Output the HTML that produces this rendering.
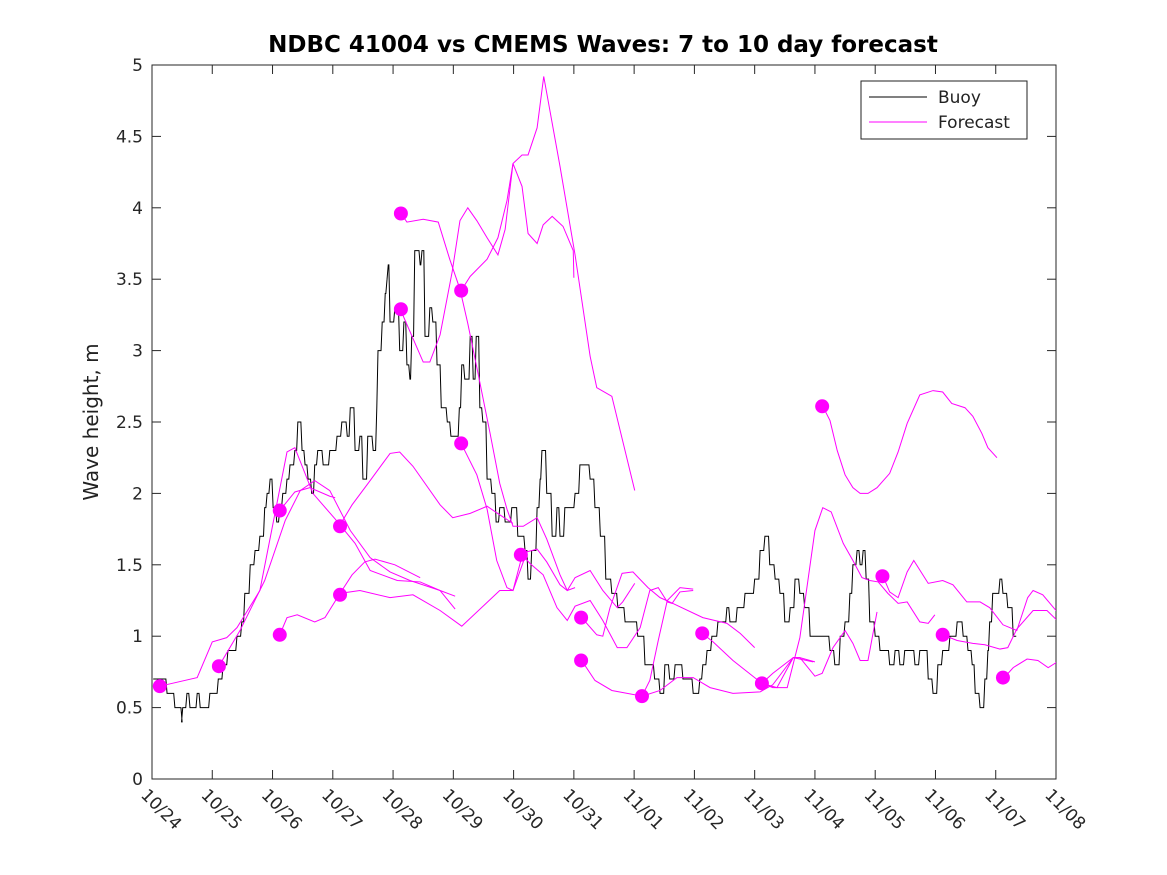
<!DOCTYPE html>
<html><head><meta charset="utf-8"><style>
body{margin:0;background:#fff}
svg{display:block;font-family:"DejaVu Sans","Liberation Sans",sans-serif}
</style></head><body>
<svg id="chart" width="1167" height="875" xmlns="http://www.w3.org/2000/svg">
<rect x="0" y="0" width="1167" height="875" fill="#fff"/>
<defs><clipPath id="plotclip"><rect x="152" y="65" width="904" height="714"/></clipPath></defs>
<text x="603" y="52" text-anchor="middle" font-size="23" font-weight="bold" fill="#000">NDBC 41004 vs CMEMS Waves: 7 to 10 day forecast</text>
<text transform="translate(98,422) rotate(-90)" text-anchor="middle" font-size="20" fill="#222">Wave height, m</text>
<g id="axes"></g>
<g id="series" clip-path="url(#plotclip)"></g>
<g id="legend">
<rect x="861" y="81" width="166" height="58" fill="#fff" stroke="#222" stroke-width="1"/>
<line x1="869" y1="97" x2="927" y2="97" stroke="#000" stroke-width="1"/>
<text x="938" y="103" font-size="17" fill="#222">Buoy</text>
<line x1="869" y1="122" x2="927" y2="122" stroke="#ff00ff" stroke-width="1"/>
<text x="938" y="128" font-size="17" fill="#222">Forecast</text>
</g>
</svg>
<script>
const xTickLabels = ["10/24","10/25","10/26","10/27","10/28","10/29","10/30","10/31","11/01","11/02","11/03","11/04","11/05","11/06","11/07","11/08"];
const yTicks = [0,0.5,1,1.5,2,2.5,3,3.5,4,4.5,5];
const buoyDays = [0.02,0.25,0.38,0.50,0.51,0.58,0.63,0.75,0.80,0.96,1.05,1.10,1.18,1.26,1.41,1.49,1.54,1.63,1.71,1.79,1.87,1.91,1.96,2.01,2.07,2.12,2.17,2.24,2.29,2.37,2.42,2.49,2.54,2.59,2.65,2.70,2.75,2.84,2.95,3.07,3.15,3.24,3.29,3.37,3.45,3.50,3.58,3.67,3.73,3.75,3.82,3.87,3.90,3.92,3.95,4.03,4.11,4.18,4.23,4.28,4.31,4.36,4.45,4.48,4.53,4.61,4.66,4.73,4.80,4.90,4.96,5.03,5.10,5.14,5.19,5.28,5.33,5.38,5.44,5.49,5.56,5.64,5.71,5.77,5.86,5.97,6.07,6.19,6.24,6.30,6.39,6.44,6.47,6.55,6.64,6.72,6.77,6.85,6.94,7.02,7.10,7.18,7.27,7.35,7.44,7.53,7.63,7.73,7.85,7.93,8.06,8.18,8.26,8.34,8.43,8.51,8.59,8.68,8.81,8.93,8.98,9.09,9.14,9.21,9.29,9.39,9.54,9.59,9.71,9.84,10.00,10.09,10.17,10.25,10.34,10.42,10.50,10.59,10.67,10.75,10.83,10.92,11.00,11.17,11.25,11.33,11.42,11.50,11.58,11.63,11.70,11.75,11.80,11.85,11.91,12.00,12.08,12.24,12.33,12.41,12.49,12.66,12.74,12.88,12.96,13.04,13.12,13.24,13.36,13.46,13.54,13.61,13.66,13.74,13.82,13.87,13.90,13.95,14.02,14.07,14.12,14.20,14.29,14.34];
const buoyValues = [0.7,0.6,0.5,0.4,0.5,0.6,0.5,0.6,0.5,0.6,0.6,0.7,0.8,0.9,1.0,1.1,1.3,1.5,1.6,1.7,1.9,2.0,2.1,1.9,1.8,1.9,2.0,2.1,2.2,2.3,2.5,2.3,2.2,2.1,2.0,2.2,2.3,2.2,2.3,2.4,2.5,2.4,2.6,2.3,2.4,2.1,2.4,2.3,2.6,3.0,3.2,3.4,3.5,3.6,3.2,3.3,3.0,3.2,2.9,2.8,3.1,3.7,3.6,3.7,3.1,3.3,3.2,2.9,2.6,2.5,2.4,2.4,2.6,2.9,2.8,3.1,2.8,3.1,2.6,2.5,2.1,2.0,1.8,1.9,1.8,1.9,1.7,1.6,1.4,1.6,1.9,2.1,2.3,2.0,1.7,1.9,1.7,1.9,1.9,2.0,2.2,2.2,2.1,1.9,1.7,1.4,1.3,1.2,1.1,1.1,1.0,0.8,0.8,0.7,0.6,0.8,0.7,0.8,0.7,0.7,0.6,0.7,0.8,0.9,1.0,1.1,1.2,1.1,1.2,1.3,1.4,1.6,1.7,1.5,1.4,1.3,1.1,1.2,1.4,1.3,1.2,1.0,1.0,1.0,0.9,0.8,1.0,1.1,1.3,1.5,1.6,1.5,1.6,1.4,1.1,1.0,0.9,0.8,0.9,0.8,0.9,0.8,0.9,0.7,0.6,0.8,0.9,1.0,1.1,1.0,0.9,0.8,0.6,0.5,0.7,0.9,1.1,1.3,1.3,1.4,1.3,1.2,1.0,1.0];
const forecastDays = [
 [0.13,0.75,1.0,1.24,1.41,1.79,2.24,2.37,2.67,3.04,3.37,3.62,4.07,4.45,4.78,5.03],
 [1.11,1.46,1.87,2.21,2.46,2.70,2.95,3.29,3.62,3.95,4.28,4.78,5.03],
 [2.12,2.37,2.62,2.95,3.04],
 [2.12,2.24,2.41,2.70,2.87,3.12,3.45,3.95,4.33,4.78,5.14,5.77,5.99,6.12],
 [3.12,3.32,3.53,3.70,4.03,4.45],
 [3.12,3.32,3.62,3.95,4.11,4.33,4.78,4.99,5.28,5.56,5.77,5.99],
 [4.13,4.23,4.50,4.75,4.94,5.11,5.24,5.41,5.61,5.77,5.89,5.99,6.16,6.39,6.55,6.77,6.89,7.02],
 [4.13,4.50,4.61,4.78,4.98,5.11,5.24,5.39,5.56,5.74,5.86,5.99,6.14,6.24,6.39,6.49,6.64,6.82,6.99,7.0],
 [5.13,5.28,5.56,5.74,5.89,5.99,6.14,6.24,6.39,6.50,6.77,7.02,7.27,7.38,7.63,8.01],
 [5.13,5.39,5.56,5.72,5.89,5.99,6.22,6.39,6.55,6.77,6.89,7.02,7.27,7.48,7.72,7.81,8.01],
 [6.12,6.27,6.49,6.72,6.89,7.02,7.27,7.48,7.72,7.88,8.10,8.26,8.40,8.55,8.63,8.76,8.98],
 [7.13,7.38,7.48,7.60,7.80,7.98,8.23,8.43,8.59,9.14,9.54,9.76,10.0],
 [7.13,7.35,7.63,8.13,8.43,8.71,8.98,9.26,9.64,10.09,10.30,10.64,10.97],
 [8.13,8.26,8.40,8.55,8.76,8.98],
 [9.13,9.31,9.64,10.0,10.12,10.37,10.64,10.75,11.00],
 [10.12,10.30,10.64,10.75,11.0,11.12,11.30,11.50,11.63,11.75,11.88,12.03],
 [10.12,10.30,10.54,10.75,11.0,11.13,11.27,11.47,11.63,11.78,11.91,12.05,12.21,12.38,12.53,12.74,12.88,12.99],
 [11.13,11.25,11.37,11.50,11.63,11.75,11.88,12.03,12.24,12.38,12.53,12.74,12.96,13.12,13.27,13.49,13.62,13.77,13.87,14.02],
 [12.13,12.24,12.38,12.53,12.64,12.88,13.12,13.29,13.52,13.74,13.90,14.12,14.35,14.53,14.62,14.78,15.02],
 [13.12,13.36,13.62,13.82,14.07,14.20,14.35,14.62,14.85,15.02],
 [14.14,14.29,14.52,14.70,14.87,15.02]
];
const forecastValues = [
 [0.65,0.71,0.96,0.99,1.06,1.32,2.29,2.32,2.0,1.82,1.65,1.46,1.39,1.38,1.32,1.28],
 [0.79,1.04,1.39,1.81,2.02,2.09,2.02,1.74,1.55,1.45,1.39,1.32,1.19],
 [1.88,2.01,2.04,1.98,1.97],
 [1.01,1.13,1.15,1.10,1.13,1.30,1.32,1.27,1.29,1.18,1.07,1.32,1.32,1.53],
 [1.30,1.43,1.52,1.54,1.50,1.41],
 [1.78,1.92,2.09,2.28,2.29,2.19,1.92,1.83,1.86,1.91,1.85,1.79],
 [3.96,3.90,3.92,3.90,3.64,3.43,3.19,2.84,2.42,2.07,1.89,1.77,1.77,1.83,1.68,1.43,1.32,1.34],
 [3.28,2.92,2.92,3.11,3.55,3.91,4.0,3.91,3.79,3.67,3.85,4.31,4.15,3.82,3.75,3.88,3.94,3.87,3.70,3.51],
 [3.42,3.52,3.64,3.79,4.05,4.31,4.37,4.37,4.56,4.92,4.29,3.67,2.96,2.74,2.68,2.02],
 [2.35,2.13,1.89,1.53,1.34,1.32,1.59,1.61,1.52,1.36,1.32,1.41,1.46,1.32,1.20,1.24,1.37],
 [1.58,1.51,1.43,1.20,1.11,1.21,1.25,1.11,0.92,0.92,1.06,1.32,1.34,1.24,1.23,1.31,1.32],
 [1.13,1.01,1.00,1.20,1.44,1.45,1.34,1.27,1.24,1.13,1.09,1.02,0.92],
 [0.83,0.69,0.62,0.58,0.62,0.71,0.71,0.64,0.60,0.61,0.66,0.85,0.82],
 [0.58,0.69,0.97,1.25,1.34,1.33],
 [1.02,0.96,0.83,0.71,0.67,0.64,0.85,0.85,0.82],
 [0.67,0.74,0.85,0.85,0.72,0.74,0.92,1.04,0.95,0.83,0.83,1.17],
 [0.67,0.64,0.64,0.99,1.74,1.90,1.87,1.65,1.53,1.41,1.39,1.38,1.30,1.23,1.24,1.10,1.09,1.15],
 [2.61,2.51,2.30,2.13,2.04,2.00,2.00,2.04,2.14,2.29,2.49,2.69,2.72,2.71,2.63,2.60,2.54,2.42,2.32,2.25],
 [1.42,1.31,1.27,1.45,1.53,1.37,1.39,1.36,1.24,1.24,1.20,1.08,1.04,1.27,1.32,1.29,1.17],
 [1.01,0.97,0.95,0.94,0.91,0.92,1.05,1.18,1.18,1.11],
 [0.71,0.78,0.84,0.83,0.78,0.82]
];
const dotDays = [0.13,1.11,2.12,2.12,3.12,3.12,4.13,4.13,5.13,5.13,6.12,7.12,7.12,8.13,9.13,10.12,11.12,12.12,13.12,14.12];
const dotValues = [0.65,0.79,1.01,1.88,1.77,1.29,3.96,3.29,3.42,2.35,1.57,1.13,0.83,0.58,1.02,0.67,2.61,1.42,1.01,0.71];

const NS = "http://www.w3.org/2000/svg";
const X0 = 152, X1 = 1056, Y0 = 779, Y1 = 65, DAYS = 15, YMAX = 5;
function xs(d){ return X0 + (X1 - X0) * d / DAYS; }
function ys(v){ return Y0 - (Y0 - Y1) * v / YMAX; }
function mk(tag, attrs, parent){
  const el = document.createElementNS(NS, tag);
  for (const k in attrs) el.setAttribute(k, attrs[k]);
  parent.appendChild(el);
  return el;
}
const axes = document.getElementById('axes');
const series = document.getElementById('series');

const frame = mk('rect', {x:X0, y:Y1, width:X1-X0, height:Y0-Y1, fill:'none', stroke:'#262626', 'stroke-width':1}, axes);



xTickLabels.forEach((lab, i) => {
  const x = xs(i);
  const t1 = mk('line', {x1:x, y1:Y0, x2:x, y2:Y0-9, stroke:'#262626'}, axes);
  
  
  const t2 = mk('line', {x1:x, y1:Y1, x2:x, y2:Y1+9, stroke:'#262626'}, axes);
  
  
  const tx = mk('text', {transform:`translate(${x-12},${Y0+17}) rotate(45)`, 'font-size':17, fill:'#262626'}, axes);
  tx.textContent = lab;
  
  
});
yTicks.forEach(v => {
  const y = ys(v);
  const t1 = mk('line', {x1:X0, y1:y, x2:X0+9, y2:y, stroke:'#262626'}, axes);
  
  
  const t2 = mk('line', {x1:X1, y1:y, x2:X1-9, y2:y, stroke:'#262626'}, axes);
  
  
  const tx = mk('text', {x:X0-9, y:y+6, 'text-anchor':'end', 'font-size':17, fill:'#262626'}, axes);
  tx.textContent = String(v);
  
  
});

let d = '';
buoyDays.forEach((t, i) => {
  const x = xs(t), y = ys(buoyValues[i]);
  if (i === 0) d = `M${x},${y}`;
  else d += ` L${x - 1.2},${ys(buoyValues[i-1])} L${x},${y}`;
});
const buoy = mk('path', {d:d, fill:'none', stroke:'#000', 'stroke-width':1}, series);



forecastDays.forEach((days, k) => {
  const pts = days.map((t, i) => `${xs(t)},${ys(forecastValues[k][i])}`).join(' ');
  const pl = mk('polyline', {points:pts, fill:'none', stroke:'#ff00ff', 'stroke-width':1}, series);
  
  
});
dotDays.forEach((t, i) => {
  const c = mk('circle', {cx:xs(t), cy:ys(dotValues[i]), r:7, fill:'#ff00ff'}, series);
  
  
});
</script>
</body></html>
